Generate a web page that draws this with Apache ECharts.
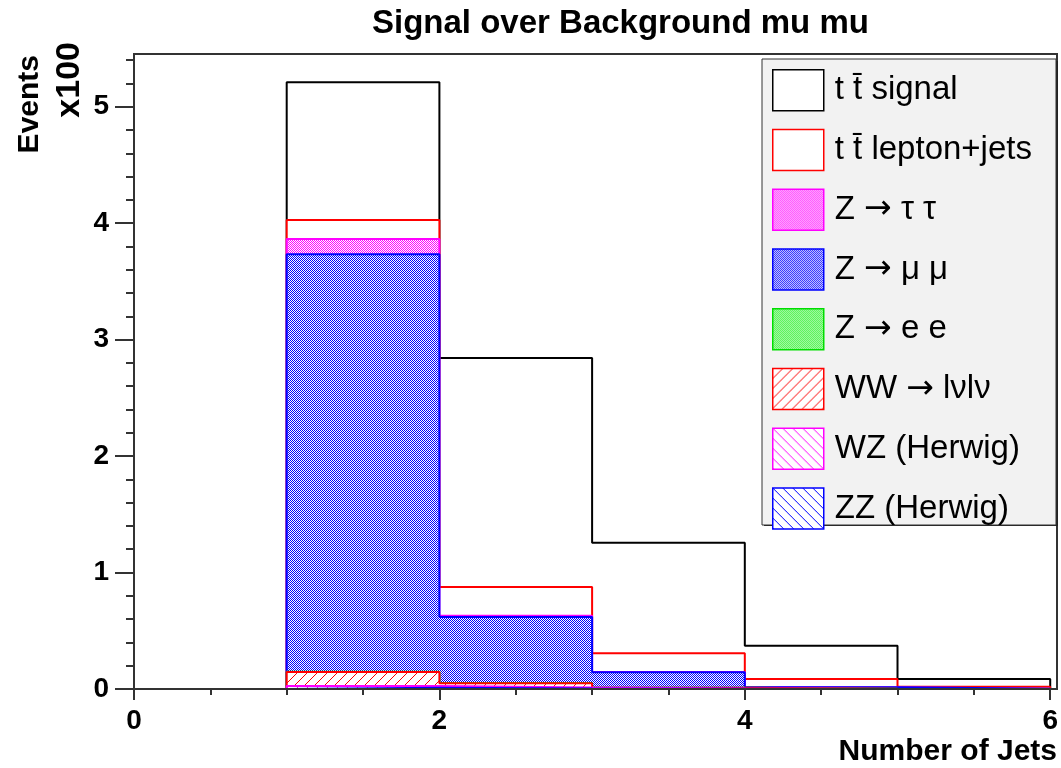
<!DOCTYPE html>
<html>
<head>
<meta charset="utf-8">
<script src="https://cdn.jsdelivr.net/npm/echarts@6/dist/echarts.min.js"></script>
<style>html,body{margin:0;padding:0;background:#fff;}#c{width:1061px;height:768px;}</style>
</head>
<body>
<div id="c"></div>
<script>
// ---- data (units of 100 events), bins of "Number of Jets" ----
const binEdges = [0, 1, 2, 3, 4, 5, 6];
const ttSignal     = [0, 1.183, 1.966, 0.947, 0.286, 0.066];
const ttLeptonJets = [0, 0.163, 0.248, 0.161, 0.071, 0.017];
const zTauTau      = [0, 0.129, 0.010, 0.003, 0.000, 0.000];
const zMuMu        = [0, 3.585, 0.567, 0.133, 0.012, 0.003];
const zEE          = [0, 0.004, 0.002, 0.001, 0.000, 0.000];
const wwLvLv       = [0, 0.120, 0.036, 0.005, 0.002, 0.000];
const wzHerwig     = [0, 0.015, 0.008, 0.003, 0.001, 0.000];
const zzHerwig     = [0, 0.010, 0.005, 0.002, 0.000, 0.000];
const xTicks = [0, 2, 4, 6];
const yTicks = [0, 1, 2, 3, 4, 5];
const names = ['t t\u0304 signal', 't t\u0304 lepton+jets', 'Z \u2192 \u03c4 \u03c4', 'Z \u2192 \u03bc \u03bc',
               'Z \u2192 e e', 'WW \u2192 l\u03bdl\u03bd', 'WZ (Herwig)', 'ZZ (Herwig)'];

// stack order bottom -> top
const stackBottomUp = [zzHerwig, wzHerwig, wwLvLv, zEE, zMuMu, zTauTau, ttLeptonJets, ttSignal];
const namesBottomUp = [names[7], names[6], names[5], names[4], names[3], names[2], names[1], names[0]];

function makePattern(fg, type) {
  const c = document.createElement('canvas');
  const ctx = c.getContext('2d');
  if (type === 'dots') {
    c.width = 2; c.height = 2;
    ctx.fillStyle = '#ffffff'; ctx.fillRect(0, 0, 2, 2);
    ctx.fillStyle = fg; ctx.fillRect(0, 0, 1, 1); ctx.fillRect(1, 1, 1, 1);
  } else {
    const n = 10;
    c.width = n; c.height = n;
    ctx.fillStyle = '#ffffff'; ctx.fillRect(0, 0, n, n);
    ctx.fillStyle = fg;
    for (let i = 0; i < n; i++) {
      if (type === 'fwd') ctx.fillRect(i, n - 1 - i, 1, 1);
      else ctx.fillRect(i, i, 1, 1);
    }
  }
  return { image: c, repeat: 'repeat' };
}

const styles = {};
styles[names[0]] = { line: '#000000', fill: '#ffffff' };
styles[names[1]] = { line: '#ff0000', fill: '#ffffff' };
styles[names[2]] = { line: '#ff00ff', fill: makePattern('#ff00ff', 'dots') };
styles[names[3]] = { line: '#0000ff', fill: makePattern('#0000ff', 'dots') };
styles[names[4]] = { line: '#00dd00', fill: makePattern('#00ee00', 'dots') };
styles[names[5]] = { line: '#ff0000', fill: makePattern('#ff0000', 'fwd') };
styles[names[6]] = { line: '#ff00ff', fill: makePattern('#ff00ff', 'bwd') };
styles[names[7]] = { line: '#0000ff', fill: makePattern('#0000ff', 'bwd') };

// cumulative sums
const cumulative = [];
let run = binEdges.slice(0, -1).map(() => 0);
stackBottomUp.forEach(arr => {
  run = run.map((v, i) => v + arr[i]);
  cumulative.push(run.slice());
});

function stepPoints(cum) {
  const pts = [];
  for (let i = 0; i < cum.length; i++) pts.push([binEdges[i], cum[i]]);
  pts.push([binEdges[binEdges.length - 1], cum[cum.length - 1]]);
  pts.push([binEdges[binEdges.length - 1], 0]);
  return pts;
}

// draw largest cumulative first
const series = [];
for (let k = stackBottomUp.length - 1, z = 2; k >= 0; k--, z++) {
  const nm = namesBottomUp[k];
  const st = styles[nm];
  series.push({
    name: nm, type: 'line', step: 'end', z: z,
    xAxisIndex: 0, yAxisIndex: 0,
    data: stepPoints(cumulative[k]),
    showSymbol: false, symbol: 'none', silent: true, animation: false,
    lineStyle: { color: st.line, width: 2 },
    itemStyle: { color: st.line },
    areaStyle: { color: st.fill, opacity: 1, origin: 'start' }
  });
}

const FONT = 'Liberation Sans, Arial, Helvetica, sans-serif';
const axisCol = '#333333';

const option = {
  backgroundColor: '#ffffff',
  animation: false,
  title: {
    text: 'Signal over Background mu mu', left: 372, top: 7, padding: 0,
    textStyle: { fontSize: 33, fontWeight: 'bold', color: '#000', fontFamily: FONT }
  },
  grid: [
    { left: 134, right: 4, top: 60.1, bottom: 79, containLabel: false },
    { left: 134, right: 4, top: 106.7, bottom: 79, containLabel: false }
  ],
  xAxis: [
    { type: 'value', gridIndex: 0, min: xTicks[0], max: xTicks[xTicks.length - 1], interval: 2,
      axisLine: { show: true, onZero: false, lineStyle: { color: axisCol, width: 2 } },
      axisTick: { show: true, inside: false, length: 11, lineStyle: { color: axisCol, width: 2 } },
      minorTick: { show: true, splitNumber: 4, length: 6, lineStyle: { color: axisCol, width: 2 } },
      splitLine: { show: false },
      axisLabel: { show: true, margin: 18, fontSize: 28, fontWeight: 'bold', color: '#000', fontFamily: FONT,
        formatter: v => (xTicks.indexOf(v) >= 0 ? String(v) : '') } },
    { type: 'value', gridIndex: 1, min: 0, max: 6, show: false }
  ],
  yAxis: [
    { type: 'value', gridIndex: 0, min: 0, max: 5.4, interval: 0.2,
      axisLine: { show: true, onZero: false, lineStyle: { color: axisCol, width: 2 } },
      axisTick: { show: true, inside: false, length: 8, lineStyle: { color: axisCol, width: 2 } },
      splitLine: { show: false },
      axisLabel: { show: true, margin: 25, fontSize: 28, fontWeight: 'bold', color: '#000', fontFamily: FONT,
        formatter: v => { const r = Math.round(v); return (Math.abs(v - r) < 1e-6 && yTicks.indexOf(r) >= 0) ? String(r) : ''; } } },
    { type: 'value', gridIndex: 1, min: yTicks[0], max: yTicks[yTicks.length - 1], interval: 1,
      axisLine: { show: false },
      axisTick: { show: true, inside: false, length: 19, lineStyle: { color: axisCol, width: 2 } },
      splitLine: { show: false }, axisLabel: { show: false } }
  ],
  legend: {
    orient: 'vertical', left: 772, top: 69, padding: 0,
    itemWidth: 51, itemHeight: 41, itemGap: 17.25, selectedMode: false, z: 20,
    formatter: nm => nm.replace('\u2192', '{a|\u2192}'),
    textStyle: { fontSize: 33, color: '#000', fontFamily: FONT, padding: [0, 0, 0, 6], lineHeight: 36,
      rich: { a: { fontFamily: 'DejaVu Sans', fontSize: 33, color: '#000', lineHeight: 36 } } },
    data: names.map(nm => ({
      name: nm, icon: 'rect',
      itemStyle: { color: styles[nm].fill, borderColor: styles[nm].line, borderWidth: 1.5 }
    }))
  },
  graphic: [
    { type: 'rect', z: 15, silent: true, shape: { x: 764, y: 61, width: 294, height: 465 }, style: { fill: '#222' } },
    { type: 'rect', z: 16, silent: true, shape: { x: 762, y: 59, width: 294, height: 466 },
      style: { fill: '#f2f2f2', stroke: '#333', lineWidth: 1 } },
    { type: 'rect', z: 14, silent: true, shape: { x: 134, y: 54, width: 923, height: 635 },
      style: { fill: 'none', stroke: axisCol, lineWidth: 2 } },
    { type: 'text', z: 20, silent: true, x: 30, y: 55, rotation: Math.PI / 2,
      style: { text: 'Events', font: 'bold 30px ' + FONT, fill: '#000', textAlign: 'right', textVerticalAlign: 'middle' } },
    { type: 'text', z: 20, silent: true, x: 70, y: 42, rotation: Math.PI / 2,
      style: { text: 'x100', font: 'bold 34px ' + FONT, fill: '#000', textAlign: 'right', textVerticalAlign: 'middle' } },
    { type: 'text', z: 20, silent: true, x: 1057, y: 752,
      style: { text: 'Number of Jets', font: 'bold 30px ' + FONT, fill: '#000', textAlign: 'right', textVerticalAlign: 'middle' } }
  ],
  series: series
};

const chart = echarts.init(document.getElementById('c'), null, { renderer: 'canvas' });
chart.setOption(option);
</script>
</body>
</html>
